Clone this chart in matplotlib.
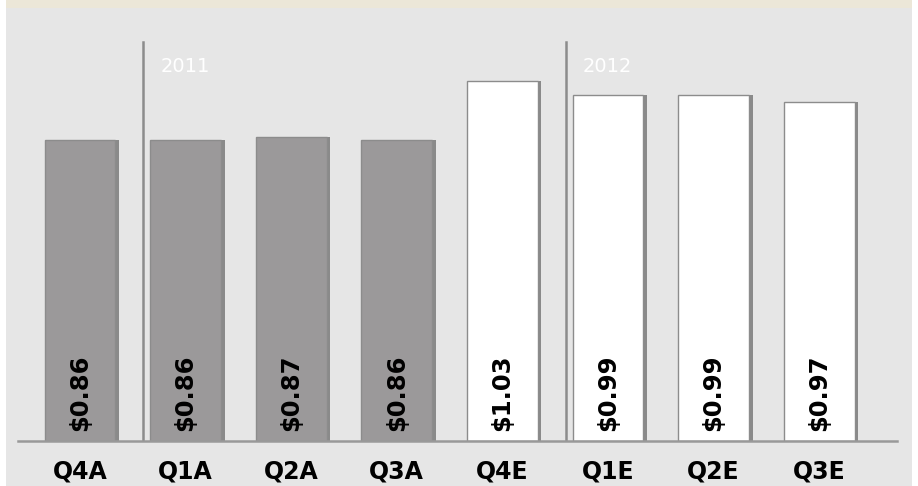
import numpy as np
import matplotlib.pyplot as plt
from matplotlib.patches import Rectangle

# ----------------------
# Données
# ----------------------
trimestres = ["Q4A", "Q1A", "Q2A", "Q3A", "Q4E", "Q1E", "Q2E", "Q3E"]
bpa = [0.86, 0.86, 0.87, 0.86, 1.03, 0.99, 0.99, 0.97]
etiquettes = ["$0.86", "$0.86", "$0.87", "$0.86", "$1.03", "$0.99", "$0.99", "$0.97"]
reel = [True, True, True, True, False, False, False, False]
annees = ["2011", "2012"]
debut_annee = [1, 5]  # indice du premier trimestre de chaque année

# ----------------------
# Figure
# ----------------------
fig = plt.figure(figsize=(9.18, 4.86), dpi=100)
fig.patch.set_facecolor("white")

# fond : panneau gris + bandeau beige en haut
fond = fig.add_axes([0, 0, 1, 1], zorder=0)
fond.set_xlim(0, 918)
fond.set_ylim(486, 0)
fond.axis("off")
fond.add_patch(Rectangle((6, 8), 906, 478, facecolor="#e6e6e6", edgecolor="none"))
fond.add_patch(Rectangle((6, 0), 906, 8, facecolor="#ece7d8", edgecolor="none"))

# axe en pixels : ligne de base y=441, 350 px par dollar, 105.6 px entre barres
ax = fig.add_axes([18/918, 45/486, 879/918, 431/486], zorder=1)
ax.set_facecolor("none")
x = np.arange(len(trimestres))
ax.set_xlim(-0.587, 7.737)
ax.set_ylim(0, 431/350)

couleurs = ["#9b999a" if r else "#ffffff" for r in reel]
# ombre à droite
ax.bar(x + 0.035, bpa, width=0.67, color="#8a8a8a", edgecolor="none", zorder=1)
ax.bar(x, bpa, width=0.67, color=couleurs, edgecolor="#8c8c8c", linewidth=1, zorder=2)

for xi, lab in zip(x, etiquettes):
    ax.text(xi, 0.03, lab, rotation=90, ha="center", va="bottom",
            fontsize=17.5, fontweight="bold", color="black", zorder=3)

for i, an in zip(debut_annee, annees):
    ax.plot([i - 0.4, i - 0.4], [0, 1.14], color="#8c8c8c", lw=1.8, zorder=1)
    ax.text(i - 0.24, 1.069, an, ha="left", va="center", fontsize=14,
            color="white", zorder=3)

ax.set_xticks(x)
ax.set_xticklabels(trimestres, fontsize=17, fontweight="bold")
ax.tick_params(axis="x", length=0, pad=13)
ax.set_yticks([])
for s in ["top", "right", "left"]:
    ax.spines[s].set_visible(False)
ax.spines["bottom"].set_color("#999999")
ax.spines["bottom"].set_linewidth(1.8)

fig.savefig("out.png", dpi=100)
